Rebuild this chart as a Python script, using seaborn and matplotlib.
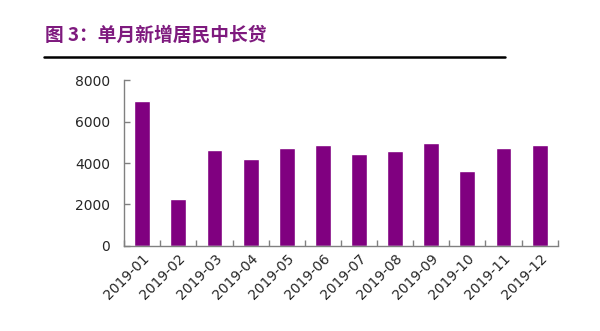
import matplotlib
matplotlib.use("Agg")
import matplotlib.pyplot as plt
import seaborn as sns
import pandas as pd

months = ["2019-01", "2019-02", "2019-03", "2019-04", "2019-05", "2019-06",
          "2019-07", "2019-08", "2019-09", "2019-10", "2019-11", "2019-12"]
loans = [7000, 2250, 4640, 4180, 4710, 4880, 4430, 4580, 4980, 3610, 4720, 4850]
y_ticks = [0, 2000, 4000, 6000, 8000]
title = "图 3：单月新增居民中长贷"

sns.set_theme(style="white")
plt.rcParams["font.family"] = ["DejaVu Sans", "Noto Sans CJK SC"]

df = pd.DataFrame({"month": months, "loans": loans})

fig = plt.figure(figsize=(6.0, 3.31), dpi=100)
ax = fig.add_axes([0.207, 0.257, 0.7225, 0.501])

sns.barplot(data=df, x="month", y="loans", color="#800080", saturation=1,
            width=0.44, ax=ax)

ax.set_xlim(-0.5, len(months) - 0.5)
ax.set_ylim(0, 8000)
ax.set_yticks(y_ticks)
ax.set_xlabel("")
ax.set_ylabel("")

# category boundary ticks on the x axis
ax.set_xticks([i - 0.5 for i in range(len(months) + 1)], minor=True)
ax.tick_params(axis="x", which="minor", direction="in", length=4, width=1,
               color="#808080", bottom=True)
ax.tick_params(axis="x", which="major", length=0, labelsize=10, pad=4)
ax.tick_params(axis="y", direction="in", length=4, width=1, color="#808080",
               left=True, labelsize=10, pad=10)
for lab in ax.get_xticklabels():
    lab.set_rotation(45)
    lab.set_ha("right")
    lab.set_rotation_mode("anchor")

for side in ["top", "right"]:
    ax.spines[side].set_visible(False)
for side in ["left", "bottom"]:
    ax.spines[side].set_color("#808080")
    ax.spines[side].set_linewidth(1)

fig.text(0.075, 0.894, title, fontsize=13.5, fontweight="bold", color="#7E1A7E",
         family=["Noto Sans CJK SC", "DejaVu Sans"], va="center", ha="left")
fig.add_artist(plt.Line2D([0.073, 0.842], [0.828, 0.828], color="black",
                          linewidth=1.8, transform=fig.transFigure))

fig.savefig("out.png", dpi=100)
